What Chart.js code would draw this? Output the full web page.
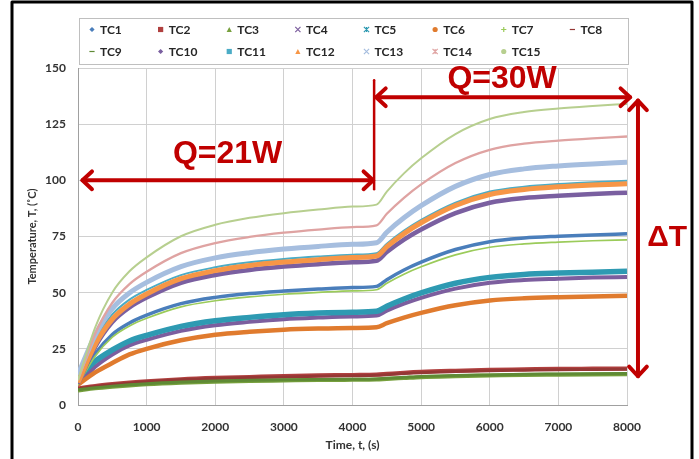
<!DOCTYPE html>
<html>
<head>
<meta charset="utf-8">
<script src="https://cdn.jsdelivr.net/npm/chart.js@4.4.1/dist/chart.umd.min.js"></script>
<style>
  html, body { margin: 0; padding: 0; background: #fff; }
</style>
</head>
<body>
<canvas id="tempChart" width="699" height="459"></canvas>
<script>
// time axis (s) and thermocouple readings (deg C)
const times = [0, 250, 500, 750, 1000, 1500, 2000, 2500, 3000, 3500, 4000, 4350, 4500, 4750, 5000, 5500, 6000, 6500, 7000, 7500, 8000];
const tc1  = [10, 22.8, 31.4, 36.5, 40.0, 45.1, 47.9, 49.6, 50.7, 51.6, 52.3, 52.8, 55.8, 60.1, 63.6, 69.2, 72.7, 74.3, 75.1, 75.7, 76.2];
const tc2  = [7.5, 8.5, 9.3, 10.0, 10.6, 11.5, 12.1, 12.5, 12.9, 13.2, 13.4, 13.6, 13.9, 14.4, 14.8, 15.3, 15.7, 15.9, 16.1, 16.2, 16.3];
const tc3  = [6.5, 7.4, 8.1, 8.7, 9.2, 9.9, 10.4, 10.7, 10.9, 11.1, 11.2, 11.3, 11.6, 12.0, 12.4, 12.8, 13.1, 13.4, 13.5, 13.6, 13.7];
const tc4  = [9, 17.0, 22.5, 26.5, 29.0, 33.0, 35.5, 37.0, 38.2, 38.9, 39.4, 39.8, 42.0, 45.1, 47.7, 51.8, 54.4, 55.6, 56.2, 56.7, 57.0];
const tc5  = [12, 19.5, 24.5, 28.5, 31.0, 35.0, 37.5, 39.0, 40.2, 40.9, 41.3, 41.7, 44.0, 47.2, 49.9, 54.2, 56.8, 58.1, 58.7, 59.1, 59.5];
const tc6  = [9, 14.5, 18.7, 22.5, 25.0, 28.8, 31.3, 32.6, 33.5, 34.0, 34.3, 34.6, 36.4, 38.9, 41.0, 44.4, 46.5, 47.5, 48.0, 48.3, 48.6];
const tc7  = [9, 21.7, 30.2, 35.2, 38.6, 43.7, 46.4, 48.1, 49.3, 50.1, 50.8, 51.3, 54.2, 58.2, 61.5, 66.8, 70.2, 71.7, 72.5, 73.1, 73.5];
const tc8  = [7.2, 8.2, 9.0, 9.7, 10.3, 11.2, 11.8, 12.2, 12.5, 12.8, 13.0, 13.2, 13.5, 14.0, 14.4, 14.9, 15.3, 15.5, 15.7, 15.8, 15.9];
const tc9  = [6.8, 7.7, 8.4, 9.0, 9.5, 10.2, 10.7, 11.0, 11.2, 11.4, 11.5, 11.6, 11.9, 12.3, 12.7, 13.1, 13.4, 13.7, 13.8, 13.9, 14.0];
const tc10 = [9.5, 25.9, 36.9, 43.4, 47.8, 54.4, 57.9, 60.1, 61.6, 62.7, 63.5, 64.2, 68.1, 73.6, 78.1, 85.4, 90.0, 92.1, 93.1, 93.9, 94.5];
const tc11 = [13, 29.4, 40.3, 46.9, 51.2, 57.8, 61.3, 63.5, 65.0, 66.1, 66.9, 67.6, 71.8, 77.6, 82.4, 90.1, 95.0, 97.2, 98.4, 99.2, 99.8];
const tc12 = [10, 26.9, 38.2, 44.9, 49.4, 56.2, 59.8, 62.1, 63.6, 64.7, 65.6, 66.3, 70.5, 76.3, 81.1, 88.8, 93.7, 95.9, 97.1, 97.9, 98.5];
const tc13 = [13.5, 31.1, 42.9, 49.9, 54.6, 61.6, 65.5, 67.8, 69.4, 70.6, 71.5, 72.2, 76.9, 83.3, 88.7, 97.3, 102.6, 105.1, 106.4, 107.3, 108.0];
const tc14 = [11, 31.7, 45.5, 53.8, 59.3, 67.6, 72.1, 74.8, 76.7, 78.1, 79.2, 80.0, 85.1, 92.2, 98.2, 107.7, 113.6, 116.3, 117.7, 118.7, 119.5];
const tc15 = [11, 34.5, 50.1, 59.5, 65.7, 75.1, 80.2, 83.3, 85.4, 87.0, 88.3, 89.2, 95.0, 103.1, 109.8, 120.6, 127.3, 130.4, 132.0, 133.1, 134.0];

const seriesNames = ['TC1', 'TC2', 'TC3', 'TC4', 'TC5', 'TC6', 'TC7', 'TC8', 'TC9', 'TC10', 'TC11', 'TC12', 'TC13', 'TC14', 'TC15'];
const seriesValues = [tc1, tc2, tc3, tc4, tc5, tc6, tc7, tc8, tc9, tc10, tc11, tc12, tc13, tc14, tc15];
const xTicks = [0, 1000, 2000, 3000, 4000, 5000, 6000, 7000, 8000];
const yTicks = [0, 25, 50, 75, 100, 125, 150];

const colors = ['#4A7EBB', '#B0403F', '#77A03D', '#7C5E9E', '#2E9AB2', '#E07B2E', '#9BCB5A', '#953735',
                '#5F8A35', '#7A5FA0', '#4BACC6', '#F79646', '#A6BEDF', '#DFA3A2', '#B7CF8F'];
const widths = [3.5, 4, 4, 4, 5.5, 4.5, 1.7, 3, 3, 4.5, 2, 5, 5, 2.3, 2];
const markers = ['diamond', 'square', 'triangle', 'x', 'star', 'circle', 'plus', 'dash',
                 'dash', 'diamond', 'square', 'triangle', 'x', 'star', 'circle'];

const red = '#C00000';
const fontFamily = 'Lato, "Open Sans", sans-serif';

function drawMarker(ctx, shape, x, y, color) {
  const r = 2.6;
  ctx.save();
  ctx.fillStyle = color;
  ctx.strokeStyle = color;
  ctx.lineWidth = 1.2;
  ctx.beginPath();
  if (shape === 'diamond') {
    ctx.moveTo(x, y - r); ctx.lineTo(x + r, y); ctx.lineTo(x, y + r); ctx.lineTo(x - r, y); ctx.closePath(); ctx.fill();
  } else if (shape === 'square') {
    ctx.rect(x - r, y - r, 2 * r, 2 * r); ctx.fill();
  } else if (shape === 'triangle') {
    ctx.moveTo(x, y - r); ctx.lineTo(x + r, y + r); ctx.lineTo(x - r, y + r); ctx.closePath(); ctx.fill();
  } else if (shape === 'circle') {
    ctx.arc(x, y, r, 0, Math.PI * 2); ctx.fill();
  } else if (shape === 'x') {
    ctx.moveTo(x - r, y - r); ctx.lineTo(x + r, y + r); ctx.moveTo(x + r, y - r); ctx.lineTo(x - r, y + r); ctx.stroke();
  } else if (shape === 'star') {
    ctx.moveTo(x - r, y - r); ctx.lineTo(x + r, y + r); ctx.moveTo(x + r, y - r); ctx.lineTo(x - r, y + r);
    ctx.moveTo(x, y - r); ctx.lineTo(x, y + r); ctx.stroke();
  } else if (shape === 'plus') {
    ctx.moveTo(x - r, y); ctx.lineTo(x + r, y); ctx.moveTo(x, y - r); ctx.lineTo(x, y + r); ctx.stroke();
  } else {
    ctx.moveTo(x - r, y); ctx.lineTo(x + r, y); ctx.stroke();
  }
  ctx.restore();
}

// legend box at the top, Excel style: 8 equal columns
const legendPlugin = {
  id: 'boxLegend',
  afterDraw(chart) {
    const ctx = chart.ctx;
    const left = 79, top = 18, right = 628, bottom = 64;
    const colW = (right - left) / 8;
    ctx.save();
    ctx.strokeStyle = '#BFBFBF';
    ctx.lineWidth = 1;
    ctx.strokeRect(left + 0.5, top + 0.5, right - left, bottom - top);
    ctx.font = 'bold 12px ' + fontFamily;
    ctx.fillStyle = '#262626';
    ctx.textBaseline = 'middle';
    seriesNames.forEach((name, i) => {
      const row = Math.floor(i / 8), col = i % 8;
      const mx = left + 13 + col * colW;
      const my = row === 0 ? 29.5 : 51.5;
      drawMarker(ctx, markers[i], mx, my, colors[i]);
      ctx.fillText(name, mx + 8, my + 0.5);
    });
    ctx.restore();
  }
};

function chevron(ctx, x, y, angle) {
  const len = 13, spread = 0.75;
  ctx.beginPath();
  ctx.moveTo(x - len * Math.cos(angle - spread), y - len * Math.sin(angle - spread));
  ctx.lineTo(x, y);
  ctx.lineTo(x - len * Math.cos(angle + spread), y - len * Math.sin(angle + spread));
  ctx.stroke();
}

// red annotations: heat load phases and temperature spread
const annotationPlugin = {
  id: 'phaseNotes',
  afterDraw(chart) {
    const ctx = chart.ctx;
    const xs = chart.scales.x, ys = chart.scales.y;
    const px = v => xs.getPixelForValue(v), py = v => ys.getPixelForValue(v);
    ctx.save();
    ctx.strokeStyle = red;
    ctx.fillStyle = red;
    ctx.lineWidth = 4;
    ctx.lineCap = 'round';
    ctx.lineJoin = 'round';

    // Q=21W double arrow
    const a1y = py(100), a1l = px(65), a1r = px(4300);
    ctx.beginPath(); ctx.moveTo(a1l, a1y); ctx.lineTo(a1r, a1y); ctx.stroke();
    chevron(ctx, a1l, a1y, Math.PI); chevron(ctx, a1r, a1y, 0);

    // divider at the load change
    ctx.lineWidth = 2.5;
    ctx.beginPath(); ctx.moveTo(px(4315), py(144.5)); ctx.lineTo(px(4315), py(96)); ctx.stroke();
    ctx.lineWidth = 4;

    // Q=30W double arrow
    const a2y = py(137), a2l = px(4345), a2r = px(8045);
    ctx.beginPath(); ctx.moveTo(a2l, a2y); ctx.lineTo(a2r, a2y); ctx.stroke();
    chevron(ctx, a2l, a2y, Math.PI); chevron(ctx, a2r, a2y, 0);

    // delta T vertical arrow
    const a3x = px(8160), a3t = py(135.5), a3b = py(12.8);
    ctx.beginPath(); ctx.moveTo(a3x, a3t); ctx.lineTo(a3x, a3b); ctx.stroke();
    chevron(ctx, a3x, a3t, -Math.PI / 2); chevron(ctx, a3x, a3b, Math.PI / 2);

    ctx.textAlign = 'center';
    ctx.textBaseline = 'alphabetic';
    ctx.font = 'bold 32px "Liberation Sans", Arial, sans-serif';
    ctx.fillText('Q=21W', px(2180), py(107.8));
    ctx.fillText('Q=30W', px(6180), py(141.3));
    ctx.font = 'bold 30px "Liberation Sans", Arial, sans-serif';
    ctx.fillText('\u0394T', px(8585), py(70.8));

    // outer black frame
    ctx.strokeStyle = '#000';
    ctx.lineWidth = 3;
    ctx.lineCap = 'butt';
    ctx.beginPath();
    ctx.moveTo(12, 470); ctx.lineTo(12, 2); ctx.lineTo(692, 2); ctx.lineTo(692, 470);
    ctx.stroke();
    ctx.restore();
  }
};

const tickFont = { family: fontFamily, size: 12, weight: 'bold' };

const ctx1 = document.getElementById('tempChart').getContext('2d');
new Chart(ctx1, {
  type: 'line',
  data: {
    datasets: seriesNames.map((name, i) => ({
      label: name,
      data: times.map((t, k) => ({ x: t, y: seriesValues[i][k] })),
      borderColor: colors[i],
      backgroundColor: colors[i],
      borderWidth: widths[i],
      pointRadius: 0,
      cubicInterpolationMode: 'monotone',
      fill: false,
      order: seriesNames.length - i
    }))
  },
  options: {
    responsive: false,
    animation: false,
    events: [],
    layout: { padding: { left: 15, right: 72, top: 68, bottom: 4 } },
    plugins: {
      legend: { display: false },
      tooltip: { enabled: false }
    },
    scales: {
      x: {
        type: 'linear',
        min: 0,
        max: 8000,
        afterBuildTicks: scale => { scale.ticks = xTicks.map(v => ({ value: v })); },
        afterFit: scale => { scale.height = 50; },
        grid: { color: '#D0D0D0', drawTicks: false },
        border: { color: '#A0A0A0' },
        ticks: { padding: 15, color: '#333', font: tickFont, callback: v => String(v) },
        title: {
          display: true,
          text: 'Time, t, (s)',
          color: '#333',
          padding: { top: 0, bottom: 3 },
          font: tickFont
        }
      },
      y: {
        min: 0,
        max: 150,
        afterBuildTicks: scale => { scale.ticks = yTicks.map(v => ({ value: v })); },
        afterFit: scale => { scale.width = 63; },
        grid: { color: '#D0D0D0', drawTicks: false },
        border: { color: '#A0A0A0' },
        ticks: { padding: 12, color: '#333', font: tickFont, callback: v => String(v) },
        title: {
          display: true,
          text: 'Temperature, T, (\u02DAC)',
          color: '#333',
          padding: { top: 11, bottom: 0 },
          font: { family: fontFamily, size: 11, weight: 'bold' }
        }
      }
    }
  },
  plugins: [legendPlugin, annotationPlugin]
});
</script>
</body>
</html>
